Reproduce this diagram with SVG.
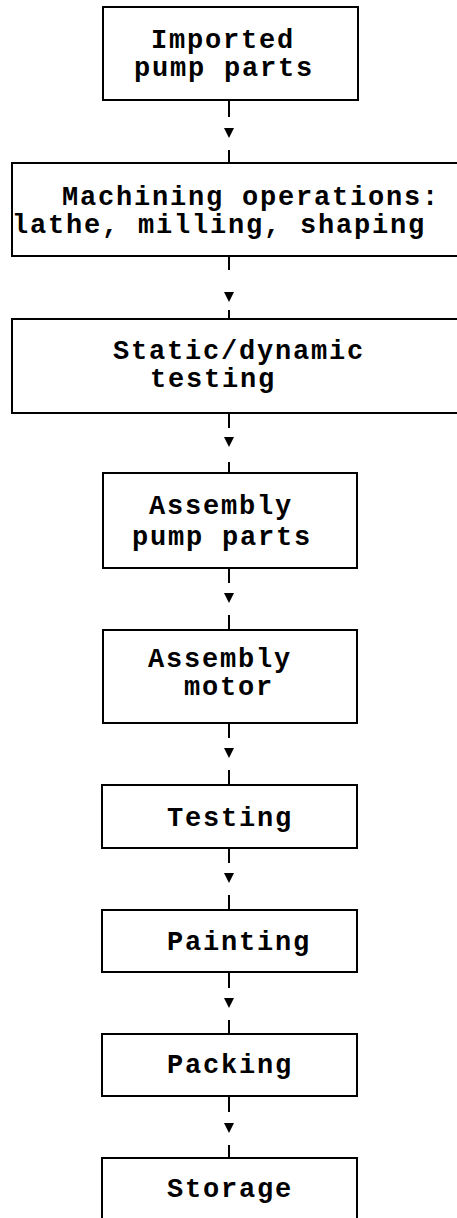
<svg xmlns="http://www.w3.org/2000/svg" width="457" height="1218" viewBox="0 0 457 1218">
  <style>
    .box { fill: #fff; stroke: #000; stroke-width: 2; }
    .lbl { font-family: "Liberation Mono", "Courier New", monospace; font-weight: bold; font-size: 27px; letter-spacing: 1.8px; fill: #000; }
    .wire { stroke: #000; stroke-width: 2; fill: none; }
    .tip { fill: #000; }
  </style>
  <rect width="457" height="1218" fill="#fff"/>

  <!-- process steps -->
  <g id="imported-parts">
    <rect class="box" x="103" y="7" width="255" height="93"/>
    <text class="lbl" x="151" y="48">Imported</text>
    <text class="lbl" x="134" y="76">pump parts</text>
  </g>
  <g id="machining">
    <rect class="box" x="12" y="163" width="460" height="93"/>
    <text class="lbl" x="62" y="205">Machining operations:</text>
    <text class="lbl" x="12" y="233">lathe, milling, shaping</text>
  </g>
  <g id="static-dynamic-testing">
    <rect class="box" x="12" y="319" width="460" height="94"/>
    <text class="lbl" x="113" y="359">Static/dynamic</text>
    <text class="lbl" x="150" y="387">testing</text>
  </g>
  <g id="assembly-pump">
    <rect class="box" x="103" y="473" width="254" height="95"/>
    <text class="lbl" x="149" y="514">Assembly</text>
    <text class="lbl" x="132" y="545">pump parts</text>
  </g>
  <g id="assembly-motor">
    <rect class="box" x="103" y="630" width="254" height="93"/>
    <text class="lbl" x="148" y="667">Assembly</text>
    <text class="lbl" x="184" y="695">motor</text>
  </g>
  <g id="testing">
    <rect class="box" x="102" y="785" width="255" height="63"/>
    <text class="lbl" x="167" y="826">Testing</text>
  </g>
  <g id="painting">
    <rect class="box" x="102" y="910" width="255" height="62"/>
    <text class="lbl" x="167" y="950">Painting</text>
  </g>
  <g id="packing">
    <rect class="box" x="102" y="1034" width="255" height="62"/>
    <text class="lbl" x="167" y="1073">Packing</text>
  </g>
  <g id="storage">
    <rect class="box" x="102" y="1158" width="255" height="80"/>
    <text class="lbl" x="167" y="1197">Storage</text>
  </g>

  <!-- connectors: stub, arrowhead, stub -->
  <g id="connectors">
    <path class="wire" d="M229 100V117M229 150V163"/>
    <polygon class="tip" points="224,128 234,128 229,138"/>
    <path class="wire" d="M229 256V270M229 310V319"/>
    <polygon class="tip" points="224,292 234,292 229,302"/>
    <path class="wire" d="M229 413V428M229 462V473"/>
    <polygon class="tip" points="224,437 234,437 229,447"/>
    <path class="wire" d="M229 568V583M229 615V630"/>
    <polygon class="tip" points="224,593 234,593 229,603"/>
    <path class="wire" d="M229 723V738M229 770V785"/>
    <polygon class="tip" points="224,748 234,748 229,758"/>
    <path class="wire" d="M229 848V863M229 895V910"/>
    <polygon class="tip" points="224,873 234,873 229,883"/>
    <path class="wire" d="M229 972V988M229 1020V1034"/>
    <polygon class="tip" points="224,998 234,998 229,1008"/>
    <path class="wire" d="M229 1096V1112M229 1145V1158"/>
    <polygon class="tip" points="224,1123 234,1123 229,1133"/>
  </g>
</svg>
